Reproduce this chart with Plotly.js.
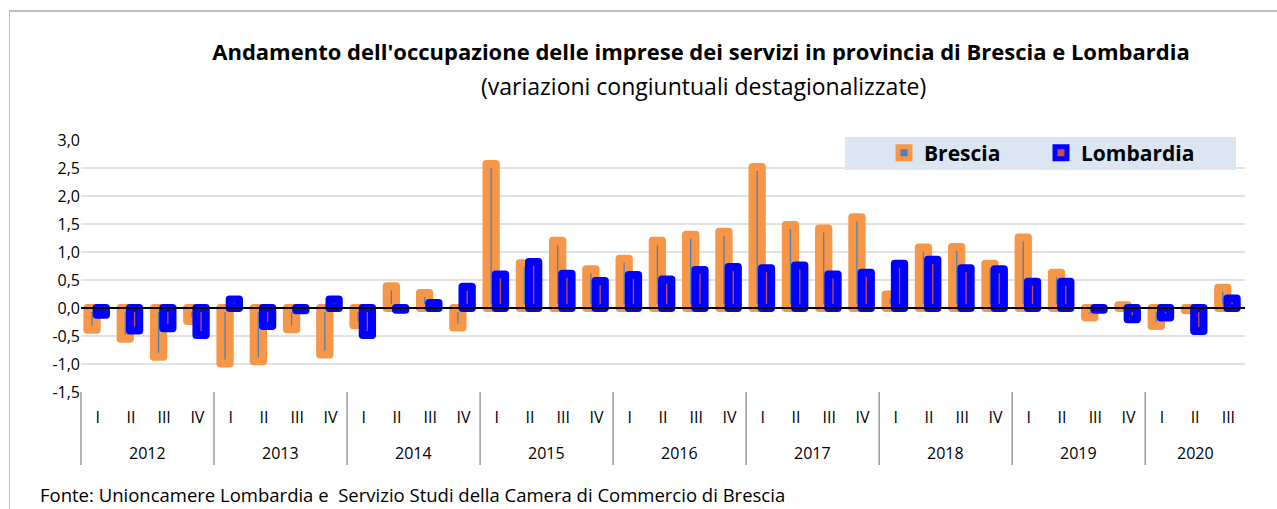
<!DOCTYPE html>
<html>
<head>
<meta charset="utf-8">
<script src="https://cdn.plot.ly/plotly-3.0.1.min.js"></script>
<style>
  html, body { margin: 0; padding: 0; background: #fff; }
  #wrap { position: relative; width: 1277px; height: 509px; overflow: hidden; }
  #chart { width: 1277px; height: 509px; }
  #frame { position: absolute; left: 9px; top: 10px; width: 1280px; height: 520px;
           border-left: 1.5px solid #bfbfbf; border-top: 2px solid #bfbfbf; pointer-events: none; }
  .bars .point path { stroke-linejoin: round; }
</style>
</head>
<body>
<div id="wrap">
  <div id="chart"></div>
  <div id="frame"></div>
</div>
<script>
const years = ['2012','2012','2012','2012','2013','2013','2013','2013','2014','2014','2014','2014',
               '2015','2015','2015','2015','2016','2016','2016','2016','2017','2017','2017','2017',
               '2018','2018','2018','2018','2019','2019','2019','2019','2020','2020','2020'];
const quarters = ['I','II','III','IV','I','II','III','IV','I','II','III','IV',
                  'I','II','III','IV','I','II','III','IV','I','II','III','IV',
                  'I','II','III','IV','I','II','III','IV','I','II','III'];
const brescia = [-0.39,-0.55,-0.87,-0.23, -0.99,-0.95,-0.38,-0.83, -0.31,0.39,0.27,-0.35,
                 2.57,0.80,1.20,0.69, 0.88,1.20,1.31,1.36, 2.52,1.48,1.42,1.62,
                 0.24,1.08,1.09,0.79, 1.26,0.63,-0.17,0.05, -0.32,-0.04,0.36];
const lombardia = [-0.12,-0.40,-0.36,-0.48, 0.15,-0.32,-0.04,0.15, -0.48,-0.03,0.09,0.38,
                   0.60,0.82,0.61,0.48, 0.59,0.51,0.68,0.73, 0.71,0.76,0.60,0.63,
                   0.79,0.86,0.71,0.69, 0.47,0.47,-0.03,-0.20, -0.17,-0.41,0.17];
const yTicks = [-1.5,-1.0,-0.5,0,0.5,1.0,1.5,2.0,2.5,3.0];
const yTickText = yTicks.map(v => v.toFixed(1).replace('.', ','));

// positions derived from the category arrays
const idx = quarters.map((q, i) => i);
const xRange = [-0.5, quarters.length - 0.5];
const toPaper = v => (v - xRange[0]) / (xRange[1] - xRange[0]);
const yearNames = [];
const yearCenters = [];
const yearBounds = [];
years.forEach((y, i) => {
  if (i === 0 || years[i - 1] !== y) {
    yearNames.push(y);
    yearBounds.push(i - 0.5);
    const members = idx.filter(j => years[j] === y);
    yearCenters.push((members[0] + members[members.length - 1]) / 2);
  }
});

const FONT = 'Open Sans, Noto Sans, sans-serif';
const PLOT_H = 252;

const traces = [
  {
    type: 'bar', name: 'Brescia', x: idx, y: brescia,
    offset: -0.308, width: 0.28,
    marker: { color: '#4f81bd', line: { color: '#f79646', width: 8 } }
  },
  {
    type: 'bar', name: 'Lombardia', x: idx, y: lombardia,
    offset: -0.029, width: 0.28,
    marker: { color: '#c0504d', line: { color: '#0000ff', width: 8 } }
  }
];

const yearAnnotations = yearNames.map((name, k) => ({
  text: name, showarrow: false, xref: 'paper', yref: 'paper',
  x: toPaper(yearCenters[k]), y: -61 / PLOT_H, xanchor: 'center', yanchor: 'middle',
  font: { family: FONT, size: 16, color: '#000000' }
}));

const dividerShapes = yearBounds.map(b => ({
  type: 'line', xref: 'paper', yref: 'paper', layer: 'above',
  x0: toPaper(b), x1: toPaper(b), y0: 0, y1: -73 / PLOT_H,
  line: { color: '#8c8c8c', width: 1.3 }
}));

const layout = {
  width: 1277, height: 509,
  margin: { l: 81, r: 32, t: 140, b: 117 },
  paper_bgcolor: '#ffffff', plot_bgcolor: '#ffffff',
  barmode: 'overlay',
  separators: ',.',
  font: { family: FONT, color: '#000000', size: 16 },
  title: {
    text: "<b>Andamento dell'occupazione delle imprese dei servizi in provincia di Brescia e Lombardia</b>",
    font: { family: FONT, size: 22, color: '#000000' },
    xref: 'container', x: 701 / 1277, xanchor: 'center',
    yref: 'container', y: 1 - 52 / 509, yanchor: 'middle'
  },
  xaxis: {
    range: xRange, showgrid: false, zeroline: false, showline: false,
    tickmode: 'array', tickvals: idx, ticktext: quarters,
    ticks: 'outside', ticklen: 11, tickcolor: 'rgba(0,0,0,0)',
    tickfont: { family: FONT, size: 16, color: '#000000' }
  },
  yaxis: {
    range: [-1.5, 3.0],
    tickmode: 'array', tickvals: yTicks, ticktext: yTickText,
    showgrid: true, gridcolor: '#e3e3e3', gridwidth: 1.5,
    zeroline: true, zerolinecolor: '#000000', zerolinewidth: 1.5,
    zerolinelayer: 'above traces',
    showline: false, ticks: '',
    tickfont: { family: FONT, size: 16, color: '#000000' }
  },
  legend: {
    orientation: 'h',
    x: (884 - 81) / 1164, xanchor: 'left',
    y: (392 - 153) / 252, yanchor: 'middle',
    bgcolor: 'rgba(0,0,0,0)',
    entrywidth: 112, entrywidthmode: 'pixels',
    font: { family: FONT, size: 21, color: '#000000', weight: 'bold' },
    itemclick: false, itemdoubleclick: false
  },
  shapes: [
    { type: 'rect', xref: 'paper', yref: 'paper', layer: 'above',
      x0: (845 - 81) / 1164, x1: (1236 - 81) / 1164,
      y0: (392 - 170) / 252, y1: (392 - 137) / 252,
      fillcolor: '#dce6f2', line: { width: 0 } }
  ].concat(dividerShapes),
  annotations: [
    { text: '(variazioni congiuntuali destagionalizzate)', showarrow: false,
      xref: 'paper', yref: 'paper', x: (703 - 81) / 1164, y: (392 - 86) / 252,
      xanchor: 'center', yanchor: 'middle',
      font: { family: FONT, size: 23, color: '#000000' } },
    { text: 'Fonte: Unioncamere Lombardia e  Servizio Studi della Camera di Commercio di Brescia',
      showarrow: false, xref: 'paper', yref: 'paper',
      x: (38 - 81) / 1164, y: (392 - 495) / 252, xanchor: 'left', yanchor: 'middle',
      font: { family: FONT, size: 18.5, color: '#000000' } }
  ].concat(yearAnnotations),
  hovermode: false
};

Plotly.newPlot('chart', traces, layout, { displayModeBar: false, staticPlot: true });
</script>
</body>
</html>
